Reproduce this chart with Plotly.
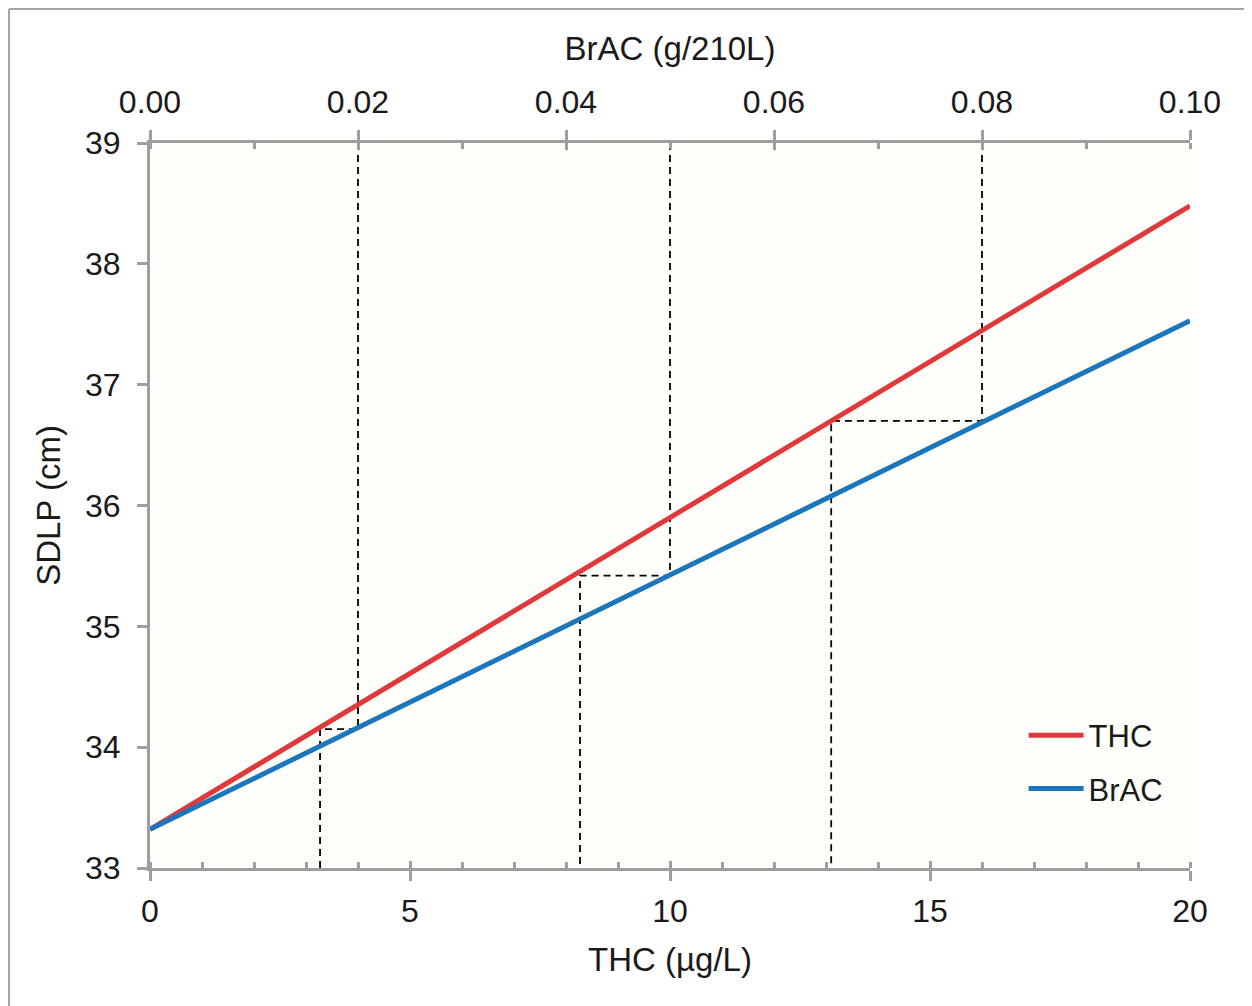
import plotly.graph_objects as go

# ---- data ----
thc_x = [0, 20]                 # THC (µg/L)
thc_sdlp = [33.32, 38.48]       # SDLP (cm)
brac_x = [0.0, 0.10]            # BrAC (g/210L)
brac_sdlp = [33.32, 37.53]      # SDLP (cm)

guide_brac = [0.02, 0.05, 0.08]     # BrAC levels
guide_sdlp = [34.15, 35.42, 36.70]  # SDLP at those BrAC levels
guide_thc = [3.27, 8.27, 13.10]     # equivalent THC concentrations

y_ticks = [33, 34, 35, 36, 37, 38, 39]
x_ticks = [0, 5, 10, 15, 20]
x2_ticks = [0.00, 0.02, 0.04, 0.06, 0.08, 0.10]

X_RANGE = [0, 20]
X2_RANGE = [0, 0.10]
Y_RANGE = [33, 39]
scale = (X_RANGE[1] - X_RANGE[0]) / (X2_RANGE[1] - X2_RANGE[0])

RED = "#e0393b"
BLUE = "#1b76bb"
AXC = "#a19d9d"
FONT = "Liberation Sans, Arial, sans-serif"

fig = go.Figure()

# dashed guide lines
for b, s, t in zip(guide_brac, guide_sdlp, guide_thc):
    bx = b * scale
    fig.add_trace(go.Scatter(
        x=[bx, bx, t, t], y=[Y_RANGE[1], s, s, Y_RANGE[0]],
        mode="lines", line=dict(color="black", width=1.8, dash="7px,5px"),
        showlegend=False, hoverinfo="skip", xaxis="x", yaxis="y"))

fig.add_trace(go.Scatter(x=thc_x, y=thc_sdlp, mode="lines", name="THC",
                         legendgroup="a",
                         line=dict(color=RED, width=5), xaxis="x", yaxis="y"))
fig.add_trace(go.Scatter(x=brac_x, y=brac_sdlp, mode="lines", name="BrAC",
                         legendgroup="b",
                         line=dict(color=BLUE, width=5), xaxis="x2", yaxis="y"))
# empty traces to instantiate overlay tick axes
fig.add_trace(go.Scatter(x=[], y=[], xaxis="x3", yaxis="y", showlegend=False))
fig.add_trace(go.Scatter(x=[], y=[], xaxis="x4", yaxis="y", showlegend=False))

tickfont = dict(family=FONT, size=32, color="#1a1a1a")
titlefont = dict(family=FONT, size=33, color="#1a1a1a")

W, H = 1244, 998
ML, MR, MT, MB = 142, 62, 135, 138
PW, PH = W - ML - MR, H - MT - MB
# frame position in paper units (1px inside figure's top-left corner)
fx = (1 - ML) / PW
fy = (H - MB - 1) / PH

fig.update_layout(
    width=W, height=H,
    margin=dict(l=ML, r=MR, t=MT, b=MB),
    paper_bgcolor="white", plot_bgcolor="#fefefa",
    font=dict(family=FONT),
    xaxis=dict(range=X_RANGE, tickvals=x_ticks, ticks="outside", ticklen=10,
               tickwidth=3, tickcolor=AXC, showline=True, linecolor=AXC,
               linewidth=3, showgrid=False, zeroline=False, tickfont=tickfont,
               ticklabelstandoff=3,
               minor=dict(ticks="inside", dtick=1, ticklen=6, tickwidth=3,
                          tickcolor=AXC, showgrid=False),
               title=dict(text="THC (µg/L)", font=titlefont, standoff=20),
               anchor="y"),
    xaxis2=dict(range=X2_RANGE, tickvals=x2_ticks, tickformat=".2f",
                overlaying="x", side="top", ticks="outside", ticklen=10,
                tickwidth=3, tickcolor=AXC, showline=True, linecolor=AXC,
                linewidth=3, showgrid=False, zeroline=False, tickfont=tickfont,
                ticklabelstandoff=4,
                minor=dict(ticks="inside", dtick=0.01, ticklen=6, tickwidth=3,
                           tickcolor=AXC, showgrid=False),
                title=dict(text="BrAC (g/210L)", font=titlefont, standoff=14),
                anchor="y"),
    xaxis3=dict(range=X_RANGE, tickvals=x_ticks, overlaying="x", side="bottom",
                ticks="inside", ticklen=7, tickwidth=3, tickcolor=AXC,
                showticklabels=False, showline=False, showgrid=False,
                zeroline=False, anchor="y"),
    xaxis4=dict(range=X2_RANGE, tickvals=x2_ticks, overlaying="x", side="top",
                ticks="inside", ticklen=7, tickwidth=3, tickcolor=AXC,
                showticklabels=False, showline=False, showgrid=False,
                zeroline=False, anchor="y"),
    yaxis=dict(range=Y_RANGE, tickvals=y_ticks, ticks="outside", ticklen=10,
               tickwidth=3, tickcolor=AXC, showline=True, linecolor=AXC,
               linewidth=3, showgrid=False, zeroline=False, tickfont=tickfont,
               ticklabelstandoff=10,
               title=dict(text="SDLP (cm)", font=titlefont, standoff=15)),
    legend=dict(x=0.84, y=0.22, xanchor="left", yanchor="top",
                bgcolor="rgba(0,0,0,0)", font=dict(family=FONT, size=31,
                                                   color="#1a1a1a"),
                itemwidth=55, tracegroupgap=10),
    shapes=[
        dict(type="line", xref="paper", yref="paper",
             x0=fx, x1=fx, y0=-MB / PH, y1=fy,
             line=dict(color="#a8a4a4", width=2)),
        dict(type="line", xref="paper", yref="paper",
             x0=fx, x1=(W - ML) / PW, y0=fy, y1=fy,
             line=dict(color="#a8a4a4", width=2)),
    ],
)

fig.write_html("out.html")
